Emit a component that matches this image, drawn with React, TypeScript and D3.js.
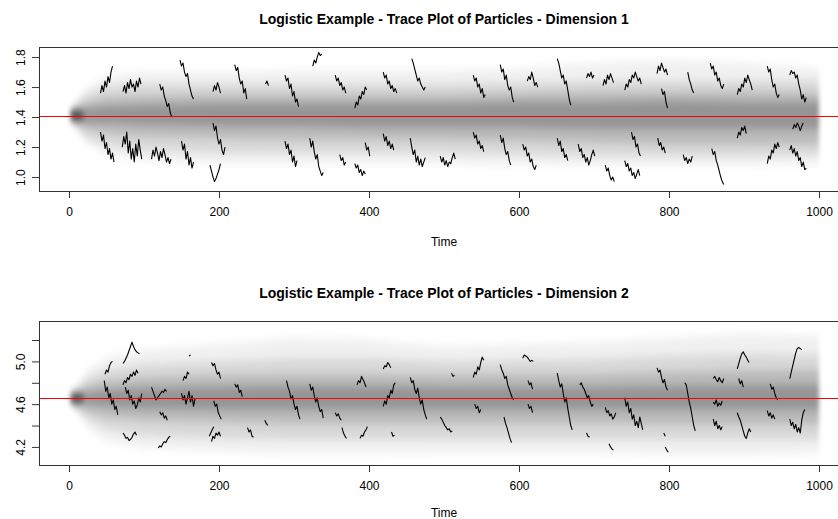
import React, { useEffect, useRef } from "react";
import { select, scaleLinear, axisBottom, axisLeft, area, line } from "d3";

const width = 838;
const height = 519;
const font = "'Liberation Sans', Arial, Helvetica, sans-serif";

// ---- data ----
const xTicks = [0, 200, 400, 600, 800, 1000];
const segStep = 2; // time units between points of a highlighted trace

const bandTimes = [1, 5, 12, 25, 50, 100, 200, 300, 400, 500, 600, 700, 800, 900, 1000];
const coreTimes = [1, 3, 7, 12, 20];

// Dimension 1
const dim1Truth = 1.41;
const dim1Ticks = [1.0, 1.2, 1.4, 1.6, 1.8];
const dim1TickLabels = ["1.0", "1.2", "1.4", "1.6", "1.8"];
const dim1Max = [1.41, 1.47, 1.53, 1.6, 1.67, 1.7, 1.7, 1.71, 1.71, 1.71, 1.72, 1.76, 1.78, 1.76, 1.72];
const dim1Q95 = [1.41, 1.45, 1.5, 1.55, 1.6, 1.62, 1.62, 1.62, 1.62, 1.62, 1.63, 1.64, 1.64, 1.64, 1.64];
const dim1Q80 = [1.41, 1.44, 1.47, 1.5, 1.53, 1.54, 1.55, 1.55, 1.55, 1.55, 1.56, 1.57, 1.57, 1.57, 1.56];
const dim1Q65 = [1.41, 1.43, 1.45, 1.46, 1.47, 1.48, 1.49, 1.49, 1.49, 1.49, 1.5, 1.5, 1.51, 1.5, 1.5];
const dim1Q35 = [1.41, 1.39, 1.37, 1.36, 1.36, 1.35, 1.34, 1.34, 1.33, 1.33, 1.33, 1.32, 1.32, 1.32, 1.32];
const dim1Q20 = [1.41, 1.38, 1.35, 1.32, 1.29, 1.27, 1.26, 1.25, 1.25, 1.25, 1.24, 1.23, 1.22, 1.22, 1.22];
const dim1Q05 = [1.41, 1.37, 1.32, 1.26, 1.21, 1.18, 1.16, 1.16, 1.16, 1.16, 1.15, 1.14, 1.14, 1.14, 1.15];
const dim1Min = [1.41, 1.35, 1.29, 1.22, 1.15, 1.11, 1.09, 1.09, 1.09, 1.09, 1.08, 1.08, 1.08, 1.08, 1.09];
const dim1CoreHi = [1.425, 1.445, 1.45, 1.44, 1.425];
const dim1CoreLo = [1.395, 1.375, 1.37, 1.38, 1.395];

const dim1Segments = [
  { t: 42, v: [1.56, 1.61, 1.57, 1.64, 1.6, 1.67, 1.63, 1.7, 1.74] },
  { t: 42, v: [1.3, 1.24, 1.28, 1.19, 1.23, 1.15, 1.19, 1.12, 1.16, 1.1] },
  { t: 72, v: [1.57, 1.61, 1.56, 1.63, 1.59, 1.65, 1.6, 1.62, 1.57, 1.64, 1.6, 1.66, 1.62] },
  { t: 71, v: [1.2, 1.27, 1.22, 1.3, 1.16, 1.24, 1.12, 1.19, 1.1, 1.22, 1.14, 1.25, 1.18, 1.12] },
  { t: 110, v: [1.12, 1.18, 1.14, 1.2, 1.16, 1.11, 1.17, 1.13, 1.19, 1.15, 1.1, 1.13, 1.09, 1.12] },
  { t: 121, v: [1.62, 1.58, 1.6, 1.54, 1.51, 1.47, 1.49, 1.43, 1.4] },
  { t: 148, v: [1.78, 1.74, 1.76, 1.7, 1.67, 1.69, 1.62, 1.58, 1.54, 1.52] },
  { t: 150, v: [1.24, 1.18, 1.22, 1.12, 1.17, 1.08, 1.13, 1.06, 1.1] },
  { t: 188, v: [1.08, 1.04, 1.0, 0.97, 0.99, 1.02, 1.05, 1.09] },
  { t: 192, v: [1.57, 1.61, 1.58, 1.63, 1.6, 1.56] },
  { t: 192, v: [1.36, 1.31, 1.34, 1.26, 1.22, 1.25, 1.18, 1.15, 1.2] },
  { t: 221, v: [1.75, 1.71, 1.73, 1.66, 1.62, 1.64, 1.56, 1.59, 1.52] },
  { t: 262, v: [1.62, 1.64, 1.61] },
  { t: 288, v: [1.68, 1.64, 1.66, 1.59, 1.62, 1.54, 1.57, 1.5, 1.52, 1.47] },
  { t: 288, v: [1.24, 1.19, 1.22, 1.15, 1.18, 1.1, 1.14, 1.07, 1.11] },
  { t: 325, v: [1.74, 1.78, 1.76, 1.8, 1.83, 1.81, 1.82] },
  { t: 321, v: [1.26, 1.2, 1.24, 1.17, 1.12, 1.15, 1.07, 1.04, 1.01, 1.03] },
  { t: 355, v: [1.68, 1.64, 1.66, 1.61, 1.63, 1.58, 1.6, 1.56] },
  { t: 361, v: [1.15, 1.11, 1.13, 1.08, 1.1] },
  { t: 381, v: [1.46, 1.5, 1.48, 1.54, 1.52, 1.57, 1.55, 1.6, 1.58] },
  { t: 381, v: [1.09, 1.06, 1.08, 1.03, 1.05, 1.01, 1.04, 1.02] },
  { t: 395, v: [1.23, 1.18, 1.2, 1.14] },
  { t: 419, v: [1.7, 1.66, 1.68, 1.62, 1.64, 1.59, 1.61, 1.57, 1.59, 1.56] },
  { t: 419, v: [1.29, 1.24, 1.27, 1.21, 1.24, 1.19, 1.22, 1.18] },
  { t: 457, v: [1.79, 1.76, 1.72, 1.68, 1.64, 1.66, 1.62, 1.6, 1.58, 1.6] },
  { t: 455, v: [1.26, 1.2, 1.15, 1.18, 1.1, 1.14, 1.08, 1.12, 1.07, 1.1, 1.13] },
  { t: 495, v: [1.14, 1.1, 1.13, 1.08, 1.11, 1.07, 1.1, 1.09, 1.13, 1.16, 1.12] },
  { t: 539, v: [1.68, 1.64, 1.66, 1.6, 1.62, 1.56, 1.59, 1.53, 1.55] },
  { t: 539, v: [1.3, 1.26, 1.28, 1.22, 1.24, 1.19, 1.21, 1.17] },
  { t: 575, v: [1.75, 1.7, 1.72, 1.65, 1.68, 1.61, 1.58, 1.6, 1.53, 1.5] },
  { t: 575, v: [1.28, 1.23, 1.26, 1.19, 1.15, 1.17, 1.11, 1.08] },
  { t: 611, v: [1.64, 1.67, 1.65, 1.7, 1.66, 1.61, 1.63, 1.6] },
  { t: 605, v: [1.22, 1.18, 1.2, 1.14, 1.16, 1.1, 1.12, 1.07, 1.05, 1.08] },
  { t: 651, v: [1.79, 1.76, 1.71, 1.66, 1.68, 1.62, 1.64, 1.58, 1.52, 1.48] },
  { t: 651, v: [1.26, 1.21, 1.24, 1.17, 1.19, 1.13, 1.15, 1.11] },
  { t: 690, v: [1.66, 1.69, 1.67, 1.7, 1.66, 1.68] },
  { t: 679, v: [1.22, 1.17, 1.19, 1.13, 1.15, 1.1, 1.13, 1.08, 1.11, 1.15, 1.18, 1.14] },
  { t: 712, v: [1.61, 1.65, 1.62, 1.68, 1.65, 1.69, 1.66, 1.63] },
  { t: 715, v: [1.08, 1.04, 1.06, 1.01, 0.98, 1.0, 0.97] },
  { t: 741, v: [1.58, 1.62, 1.6, 1.65, 1.63, 1.68, 1.66, 1.7, 1.67, 1.64, 1.66, 1.62] },
  { t: 741, v: [1.11, 1.07, 1.09, 1.04, 1.06, 1.01, 1.03, 0.99, 1.02, 1.05, 1.01] },
  { t: 750, v: [1.3, 1.25, 1.27, 1.2, 1.22, 1.16, 1.14] },
  { t: 784, v: [1.69, 1.74, 1.71, 1.76, 1.73, 1.7, 1.72, 1.68] },
  { t: 785, v: [1.26, 1.21, 1.23, 1.18, 1.2, 1.16] },
  { t: 790, v: [1.59, 1.55, 1.57, 1.5, 1.46] },
  { t: 819, v: [1.15, 1.11, 1.13, 1.09, 1.12, 1.1, 1.14] },
  { t: 825, v: [1.7, 1.65, 1.62, 1.58, 1.56] },
  { t: 855, v: [1.76, 1.72, 1.74, 1.68, 1.7, 1.64, 1.66, 1.61, 1.59, 1.62] },
  { t: 857, v: [1.19, 1.15, 1.17, 1.11, 1.08, 1.04, 1.0, 0.97, 0.95] },
  { t: 891, v: [1.55, 1.59, 1.57, 1.62, 1.6, 1.66, 1.63, 1.68, 1.65, 1.62, 1.58] },
  { t: 891, v: [1.26, 1.3, 1.28, 1.33, 1.31, 1.34, 1.29] },
  { t: 931, v: [1.74, 1.7, 1.72, 1.65, 1.6, 1.62, 1.56, 1.53, 1.55] },
  { t: 931, v: [1.09, 1.14, 1.12, 1.18, 1.16, 1.22, 1.19, 1.23, 1.2] },
  { t: 961, v: [1.68, 1.71, 1.69, 1.7, 1.66, 1.68, 1.62, 1.58, 1.52, 1.55, 1.5, 1.53] },
  { t: 965, v: [1.32, 1.35, 1.33, 1.36, 1.34, 1.31, 1.34, 1.36] },
  { t: 961, v: [1.18, 1.21, 1.16, 1.19, 1.14, 1.17, 1.11, 1.13, 1.07, 1.1, 1.05, 1.06] },
];

// Dimension 2
const dim2Truth = 4.656;
const dim2Ticks = [4.2, 4.4, 4.6, 4.8, 5.0, 5.2];
const dim2TickLabels = ["4.2", "", "4.6", "", "5.0", ""];
const dim2Max = [4.656, 4.72, 4.8, 4.92, 5.04, 5.11, 5.16, 5.22, 5.2, 5.14, 5.16, 5.18, 5.22, 5.26, 5.24];
const dim2Q95 = [4.656, 4.7, 4.76, 4.84, 4.92, 4.97, 5.0, 5.03, 5.03, 5.0, 5.01, 5.02, 5.05, 5.07, 5.06];
const dim2Q80 = [4.656, 4.69, 4.72, 4.77, 4.82, 4.85, 4.87, 4.88, 4.88, 4.87, 4.88, 4.88, 4.9, 4.92, 4.92];
const dim2Q65 = [4.656, 4.67, 4.69, 4.71, 4.73, 4.75, 4.76, 4.77, 4.77, 4.76, 4.76, 4.76, 4.77, 4.78, 4.78];
const dim2Q35 = [4.656, 4.64, 4.62, 4.6, 4.58, 4.56, 4.55, 4.55, 4.55, 4.55, 4.55, 4.55, 4.55, 4.55, 4.55];
const dim2Q20 = [4.656, 4.62, 4.58, 4.53, 4.48, 4.45, 4.43, 4.42, 4.42, 4.42, 4.42, 4.42, 4.41, 4.41, 4.41];
const dim2Q05 = [4.656, 4.6, 4.54, 4.46, 4.37, 4.31, 4.28, 4.27, 4.27, 4.27, 4.27, 4.27, 4.27, 4.27, 4.27];
const dim2Min = [4.656, 4.58, 4.5, 4.38, 4.25, 4.19, 4.16, 4.14, 4.14, 4.15, 4.15, 4.15, 4.13, 4.13, 4.14];
const dim2CoreHi = [4.67, 4.7, 4.71, 4.7, 4.68];
const dim2CoreLo = [4.64, 4.61, 4.6, 4.61, 4.63];

const dim2Segments = [
  { t: 48, v: [4.88, 4.92, 4.9, 4.96, 4.99, 5.0] },
  { t: 47, v: [4.82, 4.72, 4.76, 4.66, 4.7, 4.6, 4.64, 4.55, 4.58, 4.5] },
  { t: 72, v: [4.98, 5.0, 5.03, 5.06, 5.1, 5.14, 5.18, 5.14, 5.11, 5.09, 5.08, 5.07] },
  { t: 72, v: [4.78, 4.82, 4.8, 4.85, 4.83, 4.88, 4.86, 4.9, 4.87, 4.92, 4.89] },
  { t: 75, v: [4.76, 4.7, 4.73, 4.64, 4.68, 4.6, 4.63, 4.56, 4.59, 4.66, 4.62, 4.7] },
  { t: 72, v: [4.33, 4.31, 4.28, 4.29, 4.26, 4.27, 4.29, 4.32, 4.34, 4.31] },
  { t: 110, v: [4.76, 4.72, 4.68, 4.64, 4.66, 4.68, 4.7, 4.72, 4.71, 4.74, 4.72] },
  { t: 119, v: [4.19, 4.21, 4.2, 4.23, 4.25, 4.24, 4.27, 4.29, 4.3] },
  { t: 121, v: [4.53, 4.5, 4.52, 4.47, 4.49, 4.45] },
  { t: 150, v: [4.7, 4.64, 4.68, 4.6, 4.66, 4.72, 4.62, 4.68, 4.58, 4.65] },
  { t: 152, v: [4.82, 4.86, 4.84, 4.9, 4.88] },
  { t: 160, v: [5.05, 5.06] },
  { t: 187, v: [4.3, 4.33, 4.36, 4.39] },
  { t: 190, v: [4.99, 4.96, 4.98, 4.92, 4.88, 4.9, 4.84] },
  { t: 193, v: [4.63, 4.58, 4.6, 4.52, 4.49, 4.46] },
  { t: 190, v: [4.25, 4.3, 4.28, 4.33, 4.31, 4.34, 4.3] },
  { t: 221, v: [4.79, 4.76, 4.78, 4.71, 4.73, 4.67] },
  { t: 238, v: [4.38, 4.34, 4.36, 4.3, 4.29] },
  { t: 261, v: [4.45, 4.42, 4.4] },
  { t: 290, v: [4.82, 4.76, 4.72, 4.65, 4.68, 4.6, 4.55, 4.58, 4.5, 4.46] },
  { t: 321, v: [4.79, 4.73, 4.76, 4.68, 4.62, 4.66, 4.58, 4.53, 4.55, 4.47] },
  { t: 355, v: [4.52, 4.49, 4.51, 4.47, 4.45] },
  { t: 364, v: [4.38, 4.33, 4.3, 4.28] },
  { t: 384, v: [4.78, 4.82, 4.8, 4.86, 4.83, 4.8, 4.76] },
  { t: 388, v: [4.28, 4.31, 4.3, 4.34, 4.36, 4.39] },
  { t: 419, v: [4.93, 4.96, 4.95, 4.99, 4.97, 4.94] },
  { t: 419, v: [4.58, 4.63, 4.6, 4.68, 4.66, 4.73, 4.7, 4.78, 4.8] },
  { t: 430, v: [4.34, 4.3, 4.31] },
  { t: 455, v: [4.85, 4.8, 4.82, 4.74, 4.7, 4.75, 4.66, 4.6, 4.64, 4.55, 4.5, 4.46] },
  { t: 495, v: [4.48, 4.46, 4.43, 4.4, 4.38, 4.36, 4.37, 4.34, 4.35] },
  { t: 510, v: [4.89, 4.86, 4.87] },
  { t: 539, v: [4.85, 4.9, 4.88, 4.95, 4.92, 4.99, 5.04, 5.01] },
  { t: 541, v: [4.6, 4.56, 4.58, 4.52, 4.55] },
  { t: 575, v: [4.97, 4.92, 4.89, 4.84, 4.86, 4.78, 4.74, 4.7, 4.66, 4.64] },
  { t: 580, v: [4.48, 4.42, 4.38, 4.33, 4.28, 4.24] },
  { t: 605, v: [5.03, 5.06, 5.05, 5.04, 5.02, 5.0, 5.01, 5.0] },
  { t: 612, v: [4.82, 4.78, 4.8, 4.74] },
  { t: 612, v: [4.6, 4.56, 4.58, 4.52] },
  { t: 651, v: [4.89, 4.82, 4.76, 4.79, 4.7, 4.62, 4.66, 4.56, 4.48, 4.4, 4.36] },
  { t: 681, v: [4.78, 4.8, 4.76, 4.74, 4.7, 4.66, 4.68, 4.62, 4.58, 4.6] },
  { t: 690, v: [4.33, 4.3, 4.29] },
  { t: 715, v: [4.57, 4.52, 4.54, 4.49, 4.51, 4.46, 4.48, 4.52] },
  { t: 720, v: [4.23, 4.2, 4.18, 4.17] },
  { t: 741, v: [4.66, 4.58, 4.62, 4.52, 4.56, 4.46, 4.5, 4.4, 4.44, 4.38, 4.48, 4.42, 4.36] },
  { t: 784, v: [4.94, 4.9, 4.92, 4.85, 4.8, 4.83, 4.76, 4.73] },
  { t: 793, v: [4.33, 4.3] },
  { t: 795, v: [4.2, 4.17, 4.15] },
  { t: 821, v: [4.8, 4.78, 4.7, 4.62, 4.56, 4.48, 4.4, 4.35] },
  { t: 859, v: [4.84, 4.86, 4.83, 4.81, 4.85, 4.82, 4.8, 4.84] },
  { t: 859, v: [4.62, 4.6, 4.64, 4.58, 4.61, 4.59, 4.63] },
  { t: 859, v: [4.46, 4.4, 4.44, 4.37, 4.4, 4.36, 4.39] },
  { t: 891, v: [4.93, 4.98, 5.03, 5.07, 5.09, 5.06, 5.04, 5.01, 4.99] },
  { t: 893, v: [4.84, 4.79, 4.82, 4.76] },
  { t: 891, v: [4.52, 4.48, 4.45, 4.4, 4.35, 4.3, 4.28, 4.33, 4.37, 4.34] },
  { t: 935, v: [4.79, 4.74, 4.76, 4.7, 4.66, 4.64] },
  { t: 931, v: [4.54, 4.49, 4.52, 4.47, 4.5, 4.46] },
  { t: 961, v: [4.84, 4.9, 4.96, 5.02, 5.08, 5.12, 5.13, 5.12, 5.11] },
  { t: 961, v: [4.46, 4.4, 4.43, 4.37, 4.41, 4.34, 4.38, 4.33, 4.45, 4.52, 4.55] },
];

const panels = [
  {
    title: "Logistic Example - Trace Plot of Particles - Dimension 1",
    top: 47, bottom: 191, domain: [0.907, 1.867],
    ticks: dim1Ticks, labels: dim1TickLabels, truth: dim1Truth,
    bands: [[dim1Min, dim1Max], [dim1Q05, dim1Q95], [dim1Q20, dim1Q80], [dim1Q35, dim1Q65]],
    core: [dim1CoreLo, dim1CoreHi], segments: dim1Segments,
  },
  {
    title: "Logistic Example - Trace Plot of Particles - Dimension 2",
    top: 321, bottom: 465, domain: [4.031, 5.378],
    ticks: dim2Ticks, labels: dim2TickLabels, truth: dim2Truth,
    bands: [[dim2Min, dim2Max], [dim2Q05, dim2Q95], [dim2Q20, dim2Q80], [dim2Q35, dim2Q65]],
    core: [dim2CoreLo, dim2CoreHi], segments: dim2Segments,
  },
];

const bandOpacity = [0.06, 0.1, 0.14, 0.2];
const left = 39;
const right = 849;

function TracePlots() {
  const svgRef = useRef(null);

  useEffect(() => {
    const svg = select(svgRef.current);
    svg.selectAll("*").remove();

    const defs = svg.append("defs");
    defs.append("filter")
      .attr("id", "soft")
      .attr("x", "-5%").attr("y", "-20%")
      .attr("width", "110%").attr("height", "140%")
      .append("feGaussianBlur")
      .attr("stdDeviation", "2 4");

    const xScale = scaleLinear().domain([-40, 1040]).range([left, right]);

    panels.forEach((p, i) => {
      const yScale = scaleLinear().domain(p.domain).range([p.bottom, p.top]);
      const g = svg.append("g");

      const clipId = `clip-${i}`;
      defs.append("clipPath").attr("id", clipId)
        .append("rect")
        .attr("x", left).attr("y", p.top)
        .attr("width", right - left).attr("height", p.bottom - p.top);

      const plot = g.append("g").attr("clip-path", `url(#${clipId})`);
      const cloud = plot.append("g").attr("filter", "url(#soft)");

      // particle cloud as stacked density bands
      p.bands.forEach(([lo, hi], k) => {
        const bandArea = area()
          .x((d) => xScale(d))
          .y0((d, j) => yScale(lo[j]))
          .y1((d, j) => yScale(hi[j]));
        cloud.append("path")
          .datum(bandTimes)
          .attr("d", bandArea)
          .attr("fill", "#000")
          .attr("fill-opacity", bandOpacity[k]);
      });

      const coreArea = area()
        .x((d) => xScale(d))
        .y0((d, j) => yScale(p.core[0][j]))
        .y1((d, j) => yScale(p.core[1][j]));
      cloud.append("path")
        .datum(coreTimes)
        .attr("d", coreArea)
        .attr("fill", "#000")
        .attr("fill-opacity", 0.6);

      // highlighted particle paths
      const segLine = line()
        .x((d) => xScale(d[0]))
        .y((d) => yScale(d[1]));
      plot.selectAll(".seg")
        .data(p.segments)
        .join("path")
        .attr("class", "seg")
        .attr("d", (s) => segLine(s.v.map((v, j) => [s.t + j * segStep, v])))
        .attr("fill", "none")
        .attr("stroke", "#000")
        .attr("stroke-width", 1.1)
        .attr("stroke-linejoin", "round");

      // true value
      const yTruth = Math.round(yScale(p.truth)) + 0.5;
      plot.append("line")
        .attr("x1", left).attr("x2", right)
        .attr("y1", yTruth).attr("y2", yTruth)
        .attr("stroke", "#ff0000")
        .attr("stroke-width", 1);

      // box
      g.append("rect")
        .attr("x", left + 0.5).attr("y", p.top + 0.5)
        .attr("width", right - left).attr("height", p.bottom - p.top)
        .attr("fill", "none")
        .attr("stroke", "#333")
        .attr("stroke-width", 1);

      // axes
      const xAxis = axisBottom(xScale)
        .tickValues(xTicks)
        .tickSize(7)
        .tickPadding(9)
        .tickFormat((d) => String(d));
      const xg = g.append("g")
        .attr("transform", `translate(0,${p.bottom})`)
        .call(xAxis);
      xg.select(".domain").remove();
      xg.selectAll("line").attr("stroke", "#333");
      xg.selectAll("text")
        .attr("font-family", font)
        .attr("font-size", 12)
        .attr("fill", "#000");

      const yAxis = axisLeft(yScale)
        .tickValues(p.ticks)
        .tickSize(7)
        .tickFormat((d, j) => p.labels[j]);
      const yg = g.append("g")
        .attr("transform", `translate(${left},0)`)
        .call(yAxis);
      yg.select(".domain").remove();
      yg.selectAll("line").attr("stroke", "#333");
      yg.selectAll("text")
        .attr("x", null)
        .attr("dy", null)
        .attr("text-anchor", "middle")
        .attr("transform", "translate(-14,0) rotate(-90)")
        .attr("font-family", font)
        .attr("font-size", 12)
        .attr("fill", "#000");

      // titles
      g.append("text")
        .attr("x", (left + right) / 2)
        .attr("y", p.top - 23)
        .attr("text-anchor", "middle")
        .attr("font-family", font)
        .attr("font-size", 14)
        .attr("font-weight", "bold")
        .text(p.title);

      g.append("text")
        .attr("x", (left + right) / 2)
        .attr("y", Math.min(p.bottom + 55, height - 2))
        .attr("text-anchor", "middle")
        .attr("font-family", font)
        .attr("font-size", 12)
        .text("Time");
    });
  }, []);

  return (
    <svg
      ref={svgRef}
      width={width}
      height={height}
      style={{ position: "absolute", left: 0, top: 0, background: "#fff" }}
    />
  );
}

export default function App() {
  return <TracePlots />;
}
